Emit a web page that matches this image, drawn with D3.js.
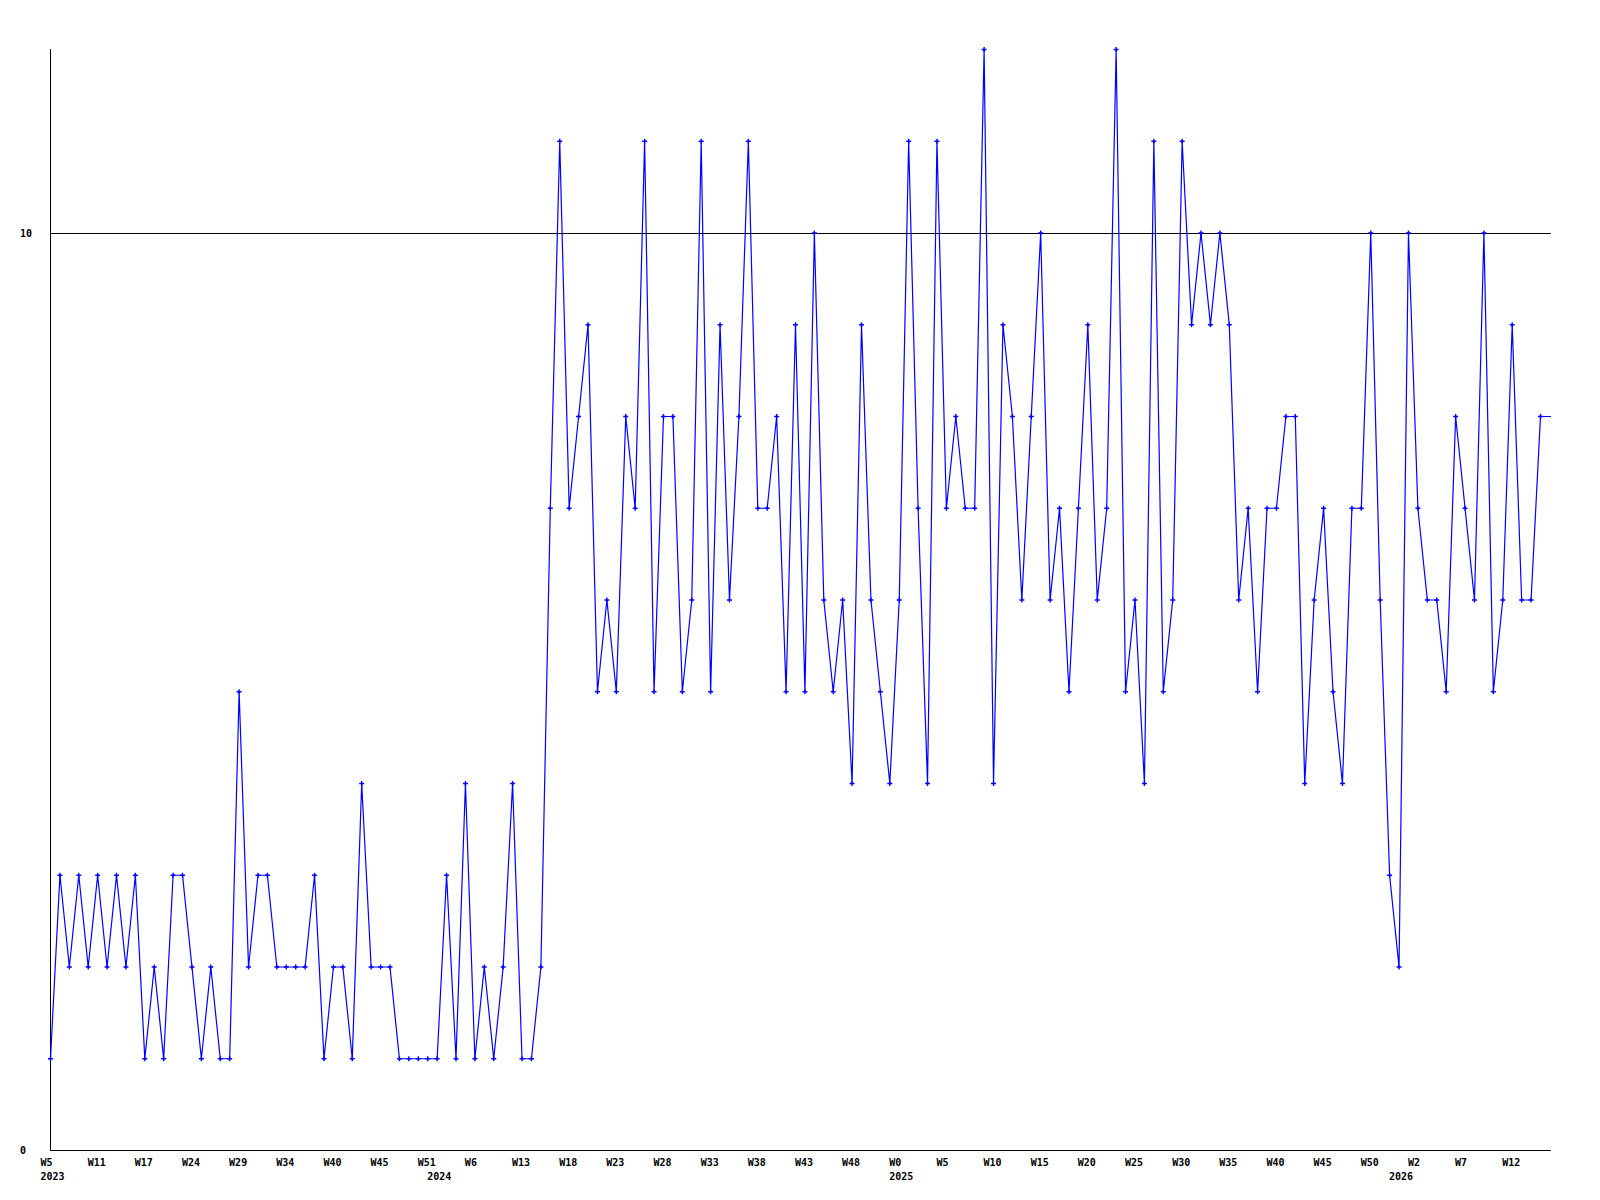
<!DOCTYPE html>
<html>
<head>
<meta charset="utf-8">
<script src="https://cdn.jsdelivr.net/npm/d3@7"></script>
<style>
  html, body { margin: 0; padding: 0; background: #ffffff; }
  svg { display: block; }
  text { font-family: "DejaVu Sans Mono", "Liberation Mono", monospace; font-weight: bold; font-size: 10px; fill: #000; }
</style>
</head>
<body>
<svg id="chart" width="1600" height="1200"></svg>
<script>
// Series values, one per sample
const values = [
  1,3,2,3,2,3,2,3,2,3,1,2,1,3,3,2,1,2,1,1,
  5,2,3,3,2,2,2,2,3,1,2,2,1,4,2,2,2,1,1,1,
  1,1,3,1,4,1,2,1,2,4,1,1,2,7,11,7,8,9,5,6,
  5,8,7,11,5,8,8,5,6,11,5,9,6,8,11,7,7,8,5,9,
  5,10,6,5,6,4,9,6,5,4,6,11,7,4,11,7,8,7,7,12,
  4,9,8,6,8,10,6,7,5,7,9,6,7,12,5,6,4,11,5,6,
  11,9,10,9,10,9,6,7,5,7,7,8,8,4,6,7,5,4,7,7,
  10,6,3,2,10,7,6,6,5,8,7,6,10,5,6,9,6,6,8
];
// Week tick labels (one every 5 samples)
const weekLabels = ["W5","W11","W17","W24","W29","W34","W40","W45","W51","W6","W13","W18","W23","W28","W33","W38","W43","W48","W0","W5","W10","W15","W20","W25","W30","W35","W40","W45","W50","W2","W7","W12"];
const weekTickStep = 5;
// Year labels and the sample index they sit under
const yearLabels = ["2023","2024","2025","2026"];
const yearLabelIndex = [0, 41, 90, 143];
// Y axis labels
const yTicks = [0, 10];
const yMax = 12;

const svg = d3.select("#chart");
const plotLeft = 50.5, plotRight = 1551, plotTop = 49.5, plotBottom = 1150.5;

const x = d3.scaleLinear().domain([0, values.length - 1]).range([50.5, 1540.5]);
const y = d3.scaleLinear().domain([0, yMax]).range([plotBottom, plotTop]);

// reference line at 10
svg.append("g").selectAll("line.grid").data(yTicks.filter(t => t > 0)).join("line")
  .attr("x1", plotLeft).attr("x2", plotRight)
  .attr("y1", d => Math.round(y(d)) + 0.5).attr("y2", d => Math.round(y(d)) + 0.5)
  .attr("stroke", "#000").attr("stroke-width", 1).attr("shape-rendering", "crispEdges");

// axes lines
svg.append("line").attr("x1", plotLeft).attr("x2", plotLeft).attr("y1", plotTop - 1).attr("y2", plotBottom)
  .attr("stroke", "#000").attr("shape-rendering", "crispEdges");
svg.append("line").attr("x1", plotLeft).attr("x2", plotRight).attr("y1", plotBottom).attr("y2", plotBottom)
  .attr("stroke", "#000").attr("shape-rendering", "crispEdges");

// y labels
svg.append("g").selectAll("text").data(yTicks).join("text")
  .attr("x", 20).attr("y", d => y(d) + 3.5)
  .text(d => d);

// x week labels
svg.append("g").selectAll("text").data(weekLabels).join("text")
  .attr("x", (d, i) => x(i * weekTickStep) - 10)
  .attr("y", 1166)
  .text(d => d);

// x year labels
svg.append("g").selectAll("text").data(yearLabels).join("text")
  .attr("x", (d, i) => x(yearLabelIndex[i]) - 10)
  .attr("y", 1180)
  .text(d => d);

// series line
const line = d3.line().x((d, i) => x(i)).y(d => y(d));
svg.append("path").datum(values)
  .attr("d", line)
  .attr("fill", "none").attr("stroke", "#0000ff").attr("stroke-width", 1.2);

// continuation of last value to the right edge
const last = values[values.length - 1];
svg.append("line")
  .attr("x1", x(values.length - 1)).attr("x2", plotRight)
  .attr("y1", y(last)).attr("y2", y(last))
  .attr("stroke", "#0000ff").attr("stroke-width", 1).attr("shape-rendering", "crispEdges");

// plus markers
const marks = svg.append("g").attr("stroke", "#0000ff").attr("stroke-width", 1.4);
marks.selectAll("path").data(values).join("path")
  .attr("d", (d, i) => {
    const cx = x(i), cy = y(d);
    return `M${cx - 2.5},${cy}H${cx + 2.5}M${cx},${cy - 2.5}V${cy + 2.5}`;
  });
</script>
</body>
</html>
